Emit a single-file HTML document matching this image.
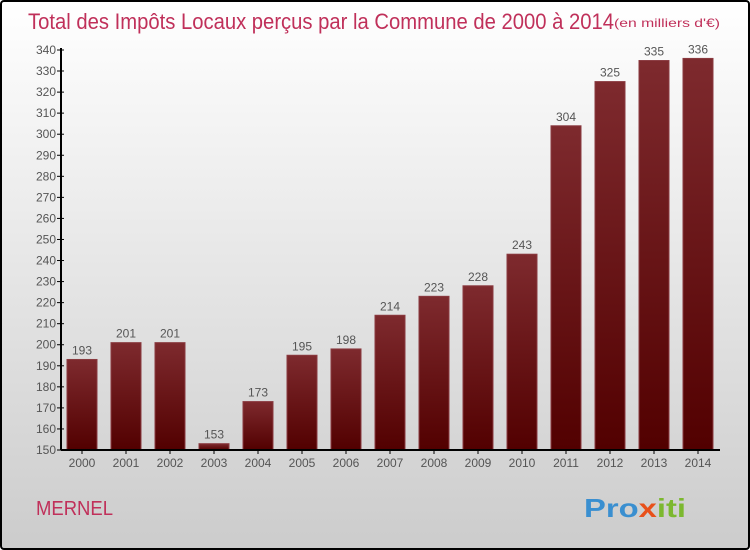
<!DOCTYPE html>
<html><head><meta charset="utf-8"><style>
body{margin:0}
#c{width:746px;height:546px;border:2px solid #000;border-radius:4px;background:linear-gradient(#fff,#ccc);position:relative;overflow:hidden;font-family:"Liberation Sans",sans-serif}
</style></head><body>
<div id="c">
<svg id="s" width="746" height="546" style="position:absolute;left:0;top:0">
<defs><linearGradient id="g" x1="0" y1="0" x2="0" y2="1"><stop offset="0" stop-color="#7e2a2e"/><stop offset="1" stop-color="#520000"/></linearGradient></defs>
<text x="26" y="27" font-size="22" fill="#c0305a" textLength="586" lengthAdjust="spacingAndGlyphs">Total des Impôts Locaux perçus par la Commune de 2000 à 2014</text>
<text x="612" y="25" font-size="12" fill="#c0305a" textLength="106" lengthAdjust="spacingAndGlyphs">(en milliers d'€)</text>
<text x="34" y="513" font-size="20" fill="#c0305a" textLength="77" lengthAdjust="spacingAndGlyphs">MERNEL</text>
<text x="582" y="515" font-size="26" font-weight="bold" fill="#3a8fd0" textLength="102" lengthAdjust="spacingAndGlyphs">Pro<tspan fill="#e8501a">x</tspan><tspan fill="#7cb82f">iti</tspan></text>
<g id="plot"></g>
</svg>
</div>
<script>
const years=["2000","2001","2002","2003","2004","2005","2006","2007","2008","2009","2010","2011","2012","2013","2014"];
const values=[193,201,201,153,173,195,198,214,223,228,243,304,325,335,336];
const ticks=[150,160,170,180,190,200,210,220,230,240,250,260,270,280,290,300,310,320,330,340];
const NS="http://www.w3.org/2000/svg";
const g=document.getElementById('plot');
const y0=448,y1=48,vmin=150,vmax=340,ax=59;
const y=v=>y0-(v-vmin)*(y0-y1)/(vmax-vmin);
const x=i=>80+i*44;
function mk(t,a,txt){const e=document.createElementNS(NS,t);for(const k in a)e.setAttribute(k,a[k]);if(txt!==undefined)e.textContent=txt;g.appendChild(e);return e;}
ticks.forEach(t=>{
 const l=mk('line',{x1:ax-4,x2:ax+3,y1:y(t),y2:y(t),stroke:'#000'});
 
 
 const tx=mk('text',{x:ax-5,y:y(t)+4,'font-size':12,'text-anchor':'end',fill:'#555'},t);
 
 
});
years.forEach((yr,i)=>{
 const b=mk('rect',{x:x(i)-15,y:y(values[i]),width:30,height:y0-y(values[i]),fill:'url(#g)',stroke:'#8a3a40','stroke-width':1});
 
 
 const v=mk('text',{x:x(i),y:y(values[i])-5,'font-size':12,'text-anchor':'middle',fill:'#555'},values[i]);
 
 
 const tk=mk('line',{x1:x(i),x2:x(i),y1:y0,y2:y0+4,stroke:'#000'});
 
 
 const xl=mk('text',{x:x(i),y:y0+17,'font-size':12,'text-anchor':'middle',fill:'#555'},yr);
 
 
});
const ya=mk('line',{x1:ax,x2:ax,y1:y1-2,y2:y0,stroke:'#000','stroke-width':2});


const xa=mk('line',{x1:ax,x2:718,y1:y0,y2:y0,stroke:'#000','stroke-width':2});


</script>
</body></html>
